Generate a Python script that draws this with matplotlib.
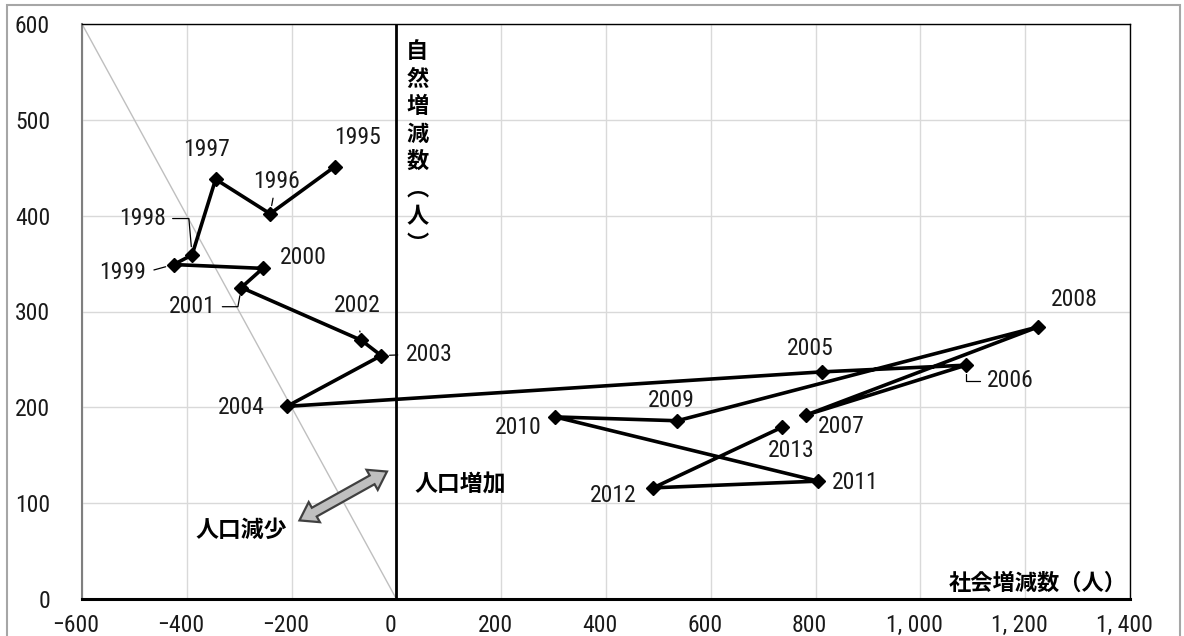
import numpy as np
import matplotlib
matplotlib.use("Agg")
import matplotlib.pyplot as plt
import matplotlib.patches as mpatches
import matplotlib.transforms as mtransforms
from matplotlib.ticker import FuncFormatter, MultipleLocator

plt.rcParams['font.family'] = ['Roboto Condensed', 'DejaVu Sans Condensed', 'Liberation Sans Narrow',
                               'Roboto', 'Noto Sans CJK JP', 'DejaVu Sans']
plt.rcParams['font.stretch'] = 'condensed'

# data: social change (x) vs natural change (y), by year
years = [1995, 1996, 1997, 1998, 1999, 2000, 2001, 2002, 2003, 2004,
         2005, 2006, 2007, 2008, 2009, 2010, 2011, 2012, 2013]
social = [-118, -241, -345, -390, -425, -255, -296, -67, -29, -209,
          812, 1087, 782, 1225, 536, 303, 805, 490, 735]
natural = [451, 402, 438, 359, 349, 345, 325, 270, 254, 201,
           237, 244, 192, 284, 186, 190, 123, 116, 179]

# label centres (layout only)
label_xy = {
    1995: (-74, 482), 1996: (-229, 436), 1997: (-363, 469), 1998: (-485, 397),
    1999: (-523, 341), 2000: (-177, 356), 2001: (-390, 305), 2002: (-74, 306),
    2003: (63, 255), 2004: (-296, 200), 2005: (790, 261), 2006: (1171, 228),
    2007: (848, 180), 2008: (1293, 313), 2009: (525, 207), 2010: (232, 179),
    2011: (875, 122), 2012: (413, 108), 2013: (753, 155),
}
# leader lines: relpos on text, connection style, shrink at text
leaders = {
    1996: ((0.45, 0.0), 'arc3', 2),
    1998: ((1.0, 0.5), 'angle,angleA=0,angleB=95,rad=0', 3),
    1999: ((1.0, 0.5), 'arc3', 4),
    2001: ((1.0, 0.5), 'angle,angleA=0,angleB=80,rad=0', 3),
    2002: ((0.5, 0.0), 'arc3', 8),
    2003: ((0.0, 0.5), 'arc3', 4),
    2006: ((0.0, 0.5), 'angle,angleA=0,angleB=90,rad=0', 3),
}

ref_x = [-600, 0]
ref_y = [600, 0]

fig = plt.figure(figsize=(11.84, 6.36), dpi=100)
ax = fig.add_axes([82 / 1184, 37 / 636, 1048 / 1184, 575 / 636])

ax.set_xlim(-600, 1400)
ax.set_ylim(0, 600)
ax.xaxis.set_major_locator(MultipleLocator(200))
ax.yaxis.set_major_locator(MultipleLocator(100))
ax.grid(True, color='#d9d9d9', lw=1.0, zorder=0)
ax.set_axisbelow(True)

def fmt_x(v, pos):
    s = f"{int(abs(v)):,}".replace(",", ", ")
    return ("\u2212" + s) if v < 0 else s

ax.xaxis.set_major_formatter(FuncFormatter(fmt_x))
ax.tick_params(axis='x', length=0, pad=11, labelsize=17, colors='#1a1a1a')
ax.tick_params(axis='y', length=0, pad=23, labelsize=17, colors='#1a1a1a')
shift = mtransforms.ScaledTranslation(-0.06, 0, fig.dpi_scale_trans)
for lab in ax.get_xticklabels():
    lab.set_transform(lab.get_transform() + shift)

ax.spines['left'].set_color('#7f7f7f')
ax.spines['left'].set_linewidth(1.5)
ax.spines['bottom'].set_linewidth(2.2)
ax.spines['top'].set_linewidth(1.0)
ax.spines['right'].set_linewidth(1.0)

# reference diagonal and zero line
ax.plot(ref_x, ref_y, color='#bfbfbf', lw=1.0, zorder=1)
ax.axvline(0, color='black', lw=2.0, zorder=2)

ax.plot(social, natural, color='black', lw=2.6, marker='D', ms=7.5,
        zorder=4, solid_joinstyle='miter')

for yr, x, y in zip(years, social, natural):
    lx, ly = label_xy[yr]
    if yr in leaders:
        rp, cs, sa = leaders[yr]
        ax.annotate(str(yr), xy=(x, y), xytext=(lx, ly), ha='center', va='center',
                    fontsize=17, color='#1a1a1a', zorder=5,
                    arrowprops=dict(arrowstyle='-', lw=0.9, color='black', relpos=rp,
                                    connectionstyle=cs, shrinkA=sa, shrinkB=6))
    else:
        ax.text(lx, ly, str(yr), ha='center', va='center', fontsize=17,
                color='#1a1a1a', zorder=5)

cjk = ['Noto Sans CJK JP', 'DejaVu Sans']
ax.text(40, 583, "自\n然\n増\n減\n数\n\ufe35\n人\n\ufe36", ha='center', va='top',
        fontsize=16, fontweight='bold', family=cjk, linespacing=1.25)
ax.text(0.997, 0.028, "社会増減数（人）", transform=ax.transAxes, ha='right',
        va='center', fontsize=16, fontweight='bold', family=cjk)
ax.text(34, 119, "人口増加", ha='left', va='center', fontsize=16.5,
        fontweight='bold', family=cjk)
ax.text(-208, 72, "人口減少", ha='right', va='center', fontsize=16.5,
        fontweight='bold', family=cjk)

# double block arrow
def double_arrow(ax, p0, p1, sw=10, hw=23, hl=17):
    a = ax.transData.transform(p0)
    b = ax.transData.transform(p1)
    u = (b - a) / np.hypot(*(b - a))
    n = np.array([-u[1], u[0]])
    pts = [a, a + u * hl + n * hw / 2, a + u * hl + n * sw / 2,
           b - u * hl + n * sw / 2, b - u * hl + n * hw / 2, b,
           b - u * hl - n * hw / 2, b - u * hl - n * sw / 2,
           a + u * hl - n * sw / 2, a + u * hl - n * hw / 2]
    poly = mpatches.Polygon(pts, closed=True, facecolor='#bfbfbf', edgecolor='#404040',
                            lw=1.6, joinstyle='miter',
                            transform=mtransforms.IdentityTransform(), zorder=3)
    ax.add_patch(poly)

double_arrow(ax, (-185, 82), (-18, 133))

# outer chart frame
fig.patches.append(mpatches.Rectangle((7 / 1184, -0.05), 1173 / 1184, 631 / 636 + 0.05,
                                      transform=fig.transFigure, fill=False,
                                      edgecolor='#a6a6a6', lw=1.5))

fig.savefig('out.png', dpi=100)
